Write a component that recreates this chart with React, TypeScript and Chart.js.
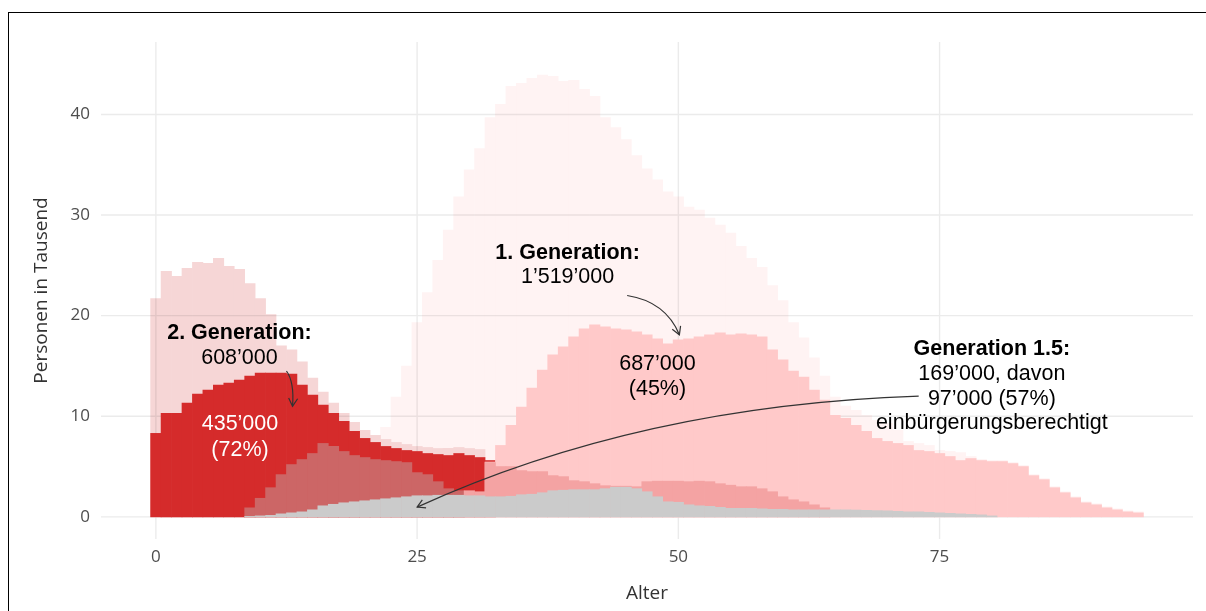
import React, { useEffect, useRef } from "react";
import { Chart, registerables } from "chart.js";

Chart.register(...registerables);

// ---------- data (values in thousands of persons, by age) ----------
const AGES = [
  0, 1, 2, 3, 4, 5, 6, 7, 8, 9, 10, 11, 12, 13, 14, 15, 16, 17, 18, 19,
  20, 21, 22, 23, 24, 25, 26, 27, 28, 29, 30, 31, 32, 33, 34, 35, 36, 37, 38, 39,
  40, 41, 42, 43, 44, 45, 46, 47, 48, 49, 50, 51, 52, 53, 54, 55, 56, 57, 58, 59,
  60, 61, 62, 63, 64, 65, 66, 67, 68, 69, 70, 71, 72, 73, 74, 75, 76, 77, 78, 79,
  80, 81, 82, 83, 84, 85, 86, 87, 88, 89, 90, 91, 92, 93, 94,
];

const X_TICKS = [0, 25, 50, 75];
const Y_TICKS = [0, 10, 20, 30, 40];

// 1. Generation, total
const FIRST_GEN_TOTAL = [
  1.5, 1.4, 1.3, 1.3, 1.4, 1.4, 1.5, 1.6, 1.6, 1.7, 1.8, 2.0, 2.2, 2.4, 2.7, 3.1, 3.6, 4.3, 5.2, 6.3,
  7.2, 7.9, 8.9, 11.9, 15.0, 19.3, 22.3, 25.5, 28.5, 31.8, 34.5, 36.6, 39.7, 41.0, 42.8, 43.1, 43.6, 43.9, 43.8, 43.3,
  43.4, 42.5, 41.8, 39.7, 38.7, 37.5, 35.9, 34.6, 33.5, 32.3, 31.8, 30.8, 30.5, 29.7, 29.0, 28.2, 26.9, 25.7, 24.8, 23.0,
  21.5, 19.3, 17.8, 15.8, 14.0, 11.9, 11.0, 10.6, 10.1, 9.6, 9.3, 8.6, 7.5, 7.3, 7.1, 6.6, 6.5, 6.4, 6.0, 5.7,
  5.6, 5.6, 5.4, 5.1, 4.2, 3.8, 3.0, 2.5, 2.0, 1.5, 1.3, 1.0, 0.8, 0.6, 0.5,
];

// 1. Generation, einbürgerungsberechtigt
const FIRST_GEN_ELIGIBLE = [
  null, null, null, null, null, null, null, null, null, null, null, null, null, null, null, null, null, null, null, null,
  null, null, null, null, null, null, null, null, null, null, null, null, 5.45, 7.1, 9.1, 10.9, 12.8, 14.6, 16.1, 16.9,
  17.9, 18.7, 19.1, 18.9, 18.7, 18.6, 18.4, 18.1, 17.7, 17.2, 17.6, 17.7, 17.9, 18.1, 18.3, 18.1, 18.2, 18.1, 17.9, 16.6,
  15.6, 14.5, 13.9, 12.6, 11.6, 10.1, 9.8, 9.1, 8.5, 7.8, 7.5, 7.3, 7.1, 6.6, 6.5, 6.3, 6.0, 5.6, 5.8, 5.6,
  5.5, 5.5, 5.3, 5.0, 4.1, 3.7, 2.9, 2.4, 1.9, 1.4, 1.2, 0.9, 0.7, 0.5, 0.4,
];

// 2. Generation, total
const SECOND_GEN_TOTAL = [
  21.7, 24.4, 23.9, 24.7, 25.3, 25.2, 25.7, 24.9, 24.6, 23.2, 21.7, 20.1, 17.0, 16.6, 15.4, 13.8, 12.4, 11.3, 10.3, 9.4,
  8.6, 8.1, 7.7, 7.4, 7.2, 7.0, 6.9, 6.8, 6.8, 6.9, 6.8, 6.7,
];

// 2. Generation, einbürgerungsberechtigt
const SECOND_GEN_ELIGIBLE = [
  8.3, 10.3, 10.3, 11.3, 12.2, 12.6, 13.1, 13.3, 13.6, 14.0, 14.3, 14.3, 14.3, 14.2, 13.1, 12.1, 11.1, 10.3, 9.5, 8.5,
  7.8, 7.4, 7.0, 6.8, 6.6, 6.5, 6.3, 6.2, 6.1, 6.3, 6.1, 5.9, 5.6,
];

// Generation 1.5, total
const GEN15_TOTAL = [
  null, null, null, null, null, null, null, null, null, 0.9, 1.85, 2.9, 4.2, 5.2, 5.7, 6.3, 7.3, 7.0, 6.5, 6.1,
  5.9, 5.7, 5.6, 5.5, 5.4, 4.4, 4.2, 3.5, 2.8, 2.6, 2.6, 2.5, 5.4, 5.0, 5.0, 4.6, 4.5, 4.5, 4.1, 4.0,
  3.6, 3.5, 3.3, 3.1, 3.05, 3.05, 3.0, 3.5, 3.55, 3.55, 3.55, 3.5, 3.55, 3.5, 3.3, 3.15, 3.0, 3.0, 2.8, 2.5,
  2.0, 1.7, 1.5, 1.2, 0.9,
];

// Generation 1.5, einbürgerungsberechtigt
const GEN15_ELIGIBLE = [
  null, null, null, null, null, null, null, null, null, 0.05, 0.1, 0.15, 0.3, 0.4, 0.5, 0.7, 1.1, 1.25, 1.4, 1.5,
  1.6, 1.7, 1.8, 1.9, 2.0, 2.1, 2.1, 2.15, 2.15, 2.15, 2.1, 2.1, 2.0, 2.0, 2.05, 2.2, 2.25, 2.4, 2.6, 2.65,
  2.7, 2.7, 2.7, 2.8, 2.95, 2.95, 2.8, 2.5, 2.0, 1.5, 1.45, 1.2, 1.1, 1.05, 0.95, 0.85, 0.85, 0.85, 0.8, 0.75,
  0.75, 0.7, 0.7, 0.7, 0.7, 0.7, 0.7, 0.68, 0.65, 0.62, 0.6, 0.55, 0.5, 0.5, 0.45, 0.4, 0.35, 0.3, 0.25, 0.2,
  0.1,
];

// annotation texts, positioned in data units (age, thousands)
const LABELS = [
  { text: "2. Generation:", age: 8.0, value: 18.33, bold: true, color: "#000000" },
  { text: "608’000", age: 8.0, value: 15.84, bold: false, color: "#000000" },
  { text: "435’000", age: 8.05, value: 9.32, bold: false, color: "#ffffff" },
  { text: "(72%)", age: 8.05, value: 6.74, bold: false, color: "#ffffff" },
  { text: "1. Generation:", age: 39.4, value: 26.29, bold: true, color: "#000000" },
  { text: "1’519’000", age: 39.4, value: 23.9, bold: false, color: "#000000" },
  { text: "687’000", age: 48.0, value: 15.26, bold: false, color: "#000000" },
  { text: "(45%)", age: 48.0, value: 12.8, bold: false, color: "#000000" },
  { text: "Generation 1.5:", age: 80.0, value: 16.74, bold: true, color: "#000000" },
  { text: "169’000, davon", age: 80.0, value: 14.3, bold: false, color: "#000000" },
  { text: "97’000 (57%)", age: 80.0, value: 11.81, bold: false, color: "#000000" },
  { text: "einbürgerungsberechtigt", age: 80.0, value: 9.42, bold: false, color: "#000000" },
];

// curved arrows: start, control, end (age, thousands)
const ARROWS = [
  { from: [12.5, 14.5], ctrl: [13.26, 13.4], to: [13.08, 11.0] },
  { from: [45.1, 22.0], ctrl: [48.78, 21.4], to: [50.1, 18.1] },
  { from: [73.0, 12.0], ctrl: [46.4, 11.1], to: [25.0, 0.97] },
];

const X_TITLE = "Alter";
const Y_TITLE = "Personen in Tausend";

// ---------- styles ----------
const COLORS = {
  firstTotal: "#fff3f3",
  secondTotal: "#f6d6d6",
  firstEligible: "#ffc9c9",
  secondEligible: "#d52b2b",
  gen15Young: "#cc6666",
  gen15Old: "#f4a3a3",
  gen15Eligible: "#cbcbcb",
};
const GEN15_COLOR_SPLIT_AGE = 30;
const TICK_FONT = "'Open Sans', 'Noto Sans', sans-serif";
const LABEL_FONT = "'Liberation Sans', Arial, sans-serif";
const LABEL_SIZE = 21.5;

function toPoints(values: (number | null)[]) {
  return AGES.map((age, i) => ({ x: age, y: values[i] === undefined ? null : values[i] }));
}

const overlayPlugin = {
  id: "overlay",
  afterDatasetDraw(chart: any, args: any) {
    const ds = chart.data.datasets[args.index];
    if (ds.label !== "2. Generation total") return;
    const { ctx, chartArea } = chart;
    const { left, right, top, bottom } = chartArea;
    const xs = chart.scales.x;
    const ys = chart.scales.y;
    ctx.save();
    ctx.beginPath();
    for (const v of Y_TICKS) {
      const py = ys.getPixelForValue(v);
      ctx.moveTo(left, py);
      ctx.lineTo(right, py);
    }
    for (const v of X_TICKS) {
      const px = xs.getPixelForValue(v);
      ctx.moveTo(px, top);
      ctx.lineTo(px, bottom);
    }
    ctx.strokeStyle = "rgba(0,0,0,0.078)";
    ctx.lineWidth = 1.4;
    ctx.stroke();
    ctx.restore();
  },
  afterDraw(chart: any) {
    const { ctx, chartArea } = chart;
    const xs = chart.scales.x;
    const ys = chart.scales.y;
    ctx.save();

    // axis titles
    ctx.fillStyle = "#333333";
    ctx.font = `19px ${TICK_FONT}`;
    ctx.textAlign = "center";
    ctx.textBaseline = "middle";
    ctx.fillText(X_TITLE, (chartArea.left + chartArea.right) / 2, 594);
    ctx.save();
    ctx.translate(42, (chartArea.top + chartArea.bottom) / 2);
    ctx.rotate(-Math.PI / 2);
    ctx.fillText(Y_TITLE, 0, 0);
    ctx.restore();

    // arrows
    ctx.strokeStyle = "#333333";
    ctx.lineWidth = 1.2;
    for (const a of ARROWS) {
      const p0 = [xs.getPixelForValue(a.from[0]), ys.getPixelForValue(a.from[1])];
      const c = [xs.getPixelForValue(a.ctrl[0]), ys.getPixelForValue(a.ctrl[1])];
      const p2 = [xs.getPixelForValue(a.to[0]), ys.getPixelForValue(a.to[1])];
      ctx.beginPath();
      ctx.moveTo(p0[0], p0[1]);
      ctx.quadraticCurveTo(c[0], c[1], p2[0], p2[1]);
      ctx.stroke();
      const ang = Math.atan2(p2[1] - c[1], p2[0] - c[0]);
      const len = 9;
      const spread = Math.PI / 6;
      ctx.beginPath();
      ctx.moveTo(p2[0] - len * Math.cos(ang - spread), p2[1] - len * Math.sin(ang - spread));
      ctx.lineTo(p2[0], p2[1]);
      ctx.lineTo(p2[0] - len * Math.cos(ang + spread), p2[1] - len * Math.sin(ang + spread));
      ctx.stroke();
    }

    // texts
    ctx.textAlign = "center";
    ctx.textBaseline = "middle";
    for (const l of LABELS) {
      ctx.font = `${l.bold ? "bold " : ""}${LABEL_SIZE}px ${LABEL_FONT}`;
      ctx.fillStyle = l.color;
      ctx.fillText(l.text, xs.getPixelForValue(l.age), ys.getPixelForValue(l.value) + 1);
    }
    ctx.restore();
  },
};

export default function App() {
  const canvasRef = useRef<HTMLCanvasElement | null>(null);

  useEffect(() => {
    const canvas = canvasRef.current;
    if (!canvas) return;
    const bar = { grouped: false, barPercentage: 1, categoryPercentage: 1, borderWidth: 0 };
    const chart = new Chart(canvas, {
      type: "bar",
      data: {
        datasets: [
          { ...bar, label: "Generation 1.5 berechtigt", data: toPoints(GEN15_ELIGIBLE), backgroundColor: COLORS.gen15Eligible, order: 0 },
          {
            ...bar,
            label: "Generation 1.5 total",
            data: toPoints(GEN15_TOTAL),
            backgroundColor: (ctx: any) =>
              (ctx.raw && ctx.raw.x < GEN15_COLOR_SPLIT_AGE) ? COLORS.gen15Young : COLORS.gen15Old,
            order: 1,
          },
          { ...bar, label: "1. Generation berechtigt", data: toPoints(FIRST_GEN_ELIGIBLE), backgroundColor: COLORS.firstEligible, order: 2 },
          { ...bar, label: "2. Generation berechtigt", data: toPoints(SECOND_GEN_ELIGIBLE), backgroundColor: COLORS.secondEligible, order: 3 },
          { ...bar, label: "2. Generation total", data: toPoints(SECOND_GEN_TOTAL), backgroundColor: COLORS.secondTotal, order: 4 },
          { ...bar, label: "1. Generation total", data: toPoints(FIRST_GEN_TOTAL), backgroundColor: COLORS.firstTotal, order: 5 },
        ] as any,
      },
      options: {
        responsive: false,
        animation: false,
        devicePixelRatio: 1,
        layout: { padding: { left: 0, top: 42, right: 13, bottom: 0 } },
        plugins: { legend: { display: false }, tooltip: { enabled: false } },
        scales: {
          x: {
            type: "linear",
            min: -5.25,
            max: 99.25,
            offset: false,
            grid: { display: false, drawTicks: false },
            border: { display: false },
            ticks: { color: "#4d4d4d", font: { family: TICK_FONT, size: 17 }, padding: 8, maxRotation: 0 },
            afterBuildTicks: (axis: any) => {
              axis.ticks = X_TICKS.map((v) => ({ value: v }));
            },
            afterFit: (axis: any) => {
              axis.height = 72;
            },
          },
          y: {
            type: "linear",
            min: -2.2,
            max: 47.2,
            grid: { display: false, drawTicks: false },
            border: { display: false },
            ticks: { color: "#4d4d4d", font: { family: TICK_FONT, size: 17 }, padding: 11 },
            afterBuildTicks: (axis: any) => {
              axis.ticks = Y_TICKS.map((v) => ({ value: v }));
            },
            afterFit: (axis: any) => {
              axis.width = 101;
            },
          },
        },
      } as any,
      plugins: [overlayPlugin],
    });
    return () => chart.destroy();
  }, []);

  return (
    <div
      style={{
        position: "fixed",
        left: 0,
        top: 0,
        width: 1206,
        height: 611,
        overflow: "hidden",
        background: "#ffffff",
      }}
    >
      <canvas
        ref={canvasRef}
        width={1206}
        height={611}
        style={{ position: "absolute", left: 0, top: 0, width: 1206, height: 611, display: "block" }}
      />
      <div
        style={{
          position: "absolute",
          left: 8,
          top: 12,
          width: 1300,
          height: 700,
          borderTop: "1px solid #000",
          borderLeft: "1px solid #000",
          pointerEvents: "none",
        }}
      />
    </div>
  );
}
